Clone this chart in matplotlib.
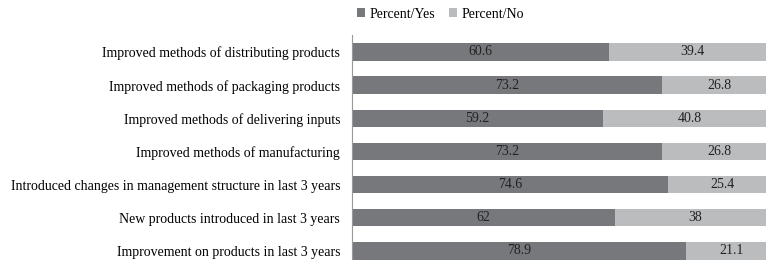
import matplotlib
matplotlib.use("Agg")
import matplotlib.pyplot as plt

categories = [
    "Improved methods of distributing products",
    "Improved methods of packaging products",
    "Improved methods of delivering inputs",
    "Improved methods of manufacturing",
    "Introduced changes in management structure in last 3 years",
    "New products introduced in last 3 years",
    "Improvement on products in last 3 years",
]
pct_yes = [60.6, 73.2, 59.2, 73.2, 74.6, 62, 78.9]
pct_no = [39.4, 26.8, 40.8, 26.8, 25.4, 38, 21.1]

plt.rcParams['font.family'] = ['Liberation Serif', 'DejaVu Serif']

dark = '#76787b'
light = '#bbbcbe'

fig = plt.figure(figsize=(7.66, 2.6), dpi=100)
ax = fig.add_axes([0.4595, -0.029, 0.5535, 0.893])

ypos = list(range(len(categories)))[::-1]
b1 = ax.barh(ypos, pct_yes, height=0.52, color=dark, label='Percent/Yes')
b2 = ax.barh(ypos, pct_no, left=pct_yes, height=0.52, color=light, label='Percent/No')

for y, a, b in zip(ypos, pct_yes, pct_no):
    ax.text(a / 2, y, "{:g}".format(a), ha='center', va='center', fontsize=10, color='#222222')
    ax.text(a + b / 2, y, "{:g}".format(b), ha='center', va='center', fontsize=10, color='#222222')

ax.set_xlim(0, 100)
ax.set_ylim(-0.5, 6.5)
ax.set_yticks(ypos)
ax.set_yticklabels(categories, fontsize=10)
ax.tick_params(axis='y', length=0, pad=8.5)
ax.set_xticks([])
for s in ['top', 'right', 'bottom']:
    ax.spines[s].set_visible(False)
ax.spines['left'].set_color('#999999')
ax.spines['left'].set_linewidth(0.8)

fig.legend(handles=[b1, b2], loc='center', bbox_to_anchor=(0.575, 0.945), ncol=2,
           frameon=False, fontsize=10, handlelength=0.6, handleheight=0.6,
           handletextpad=0.3, columnspacing=1.0)

fig.savefig("out.png", dpi=100)
